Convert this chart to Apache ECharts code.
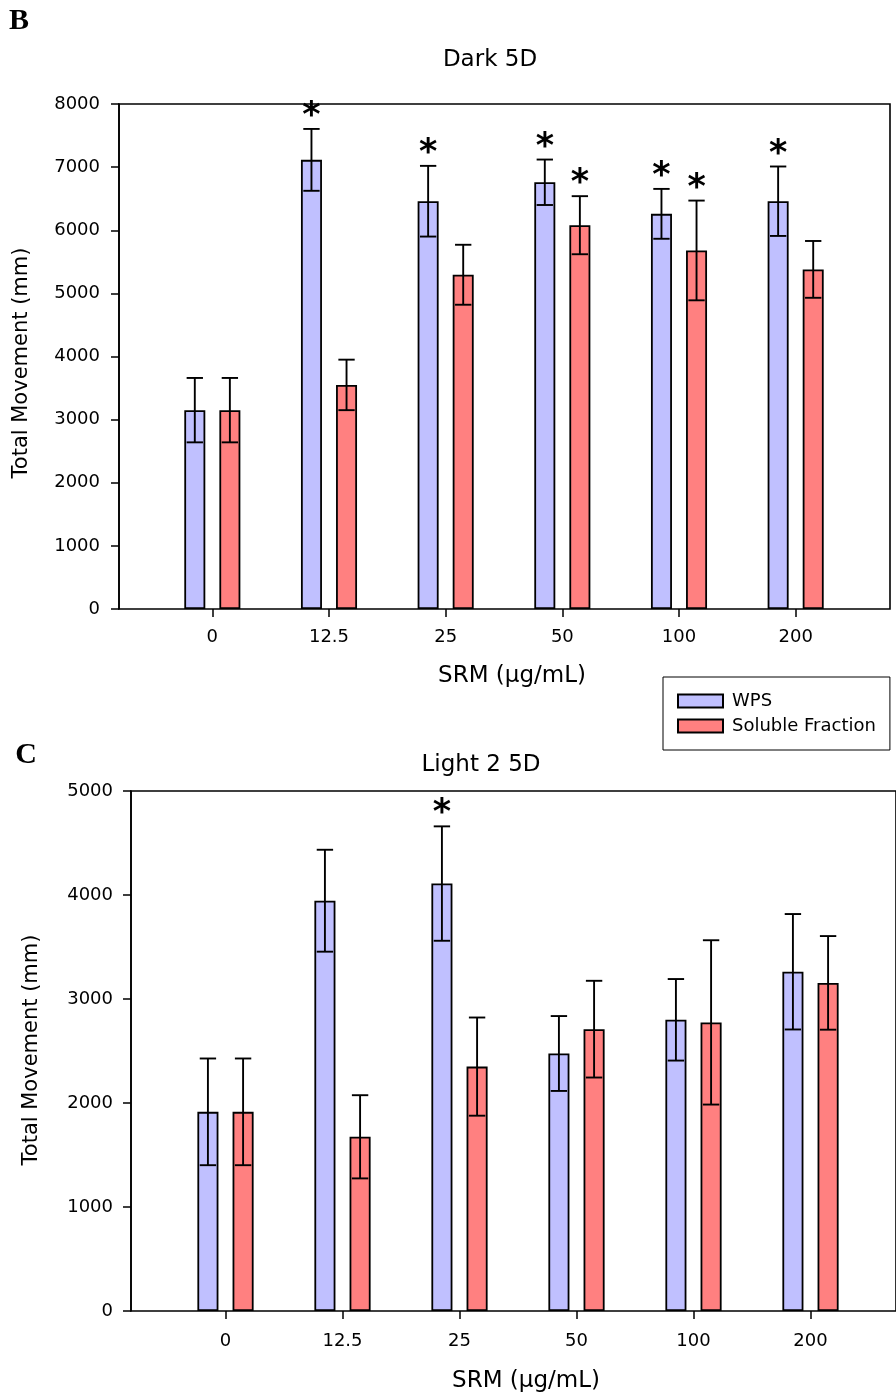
<!DOCTYPE html>
<html>
<head>
<meta charset="utf-8">
<script src="https://cdn.jsdelivr.net/npm/echarts@6/dist/echarts.min.js"></script>
<style>
  html, body { margin: 0; padding: 0; background: #fff; }
  #chart { width: 896px; height: 1397px; }
</style>
</head>
<body>
<div id="chart"></div>
<script>
// Dose groups (SRM concentration, µg/mL)
const doses = ['0', '12.5', '25', '50', '100', '200'];
const seriesNames = ['WPS', 'Soluble Fraction'];

// Panel B: Dark 5D — total movement (mm), mean and error
const darkWps      = [3150, 7115, 6460, 6760, 6260, 6460];
const darkWpsErr   = [510, 490, 560, 360, 395, 550];
const darkWpsSig   = [0, 1, 1, 1, 1, 1];
const darkSol      = [3150, 3550, 5295, 6080, 5680, 5380];
const darkSolErr   = [510, 400, 475, 460, 790, 450];
const darkSolSig   = [0, 0, 0, 1, 1, 0];

// Panel C: Light 2 5D — total movement (mm), mean and error
const lightWps     = [1915, 3945, 4110, 2476, 2800, 3262];
const lightWpsErr  = [513, 490, 550, 360, 392, 555];
const lightWpsSig  = [0, 0, 1, 0, 0, 0];
const lightSol     = [1915, 1675, 2350, 2710, 2775, 3155];
const lightSolErr  = [513, 400, 472, 465, 790, 450];
const lightSolSig  = [0, 0, 0, 0, 0, 0];

// Value axis ranges
const darkAxis  = { max: 8000, step: 1000 };
const lightAxis = { max: 5000, step: 1000 };

const FONT = 'DejaVu Sans';
const INK = '#000';
const WPS_COLOR = '#c0c0ff';
const SOL_COLOR = '#ff8080';
const BAR_FRAC = 0.18;   // bar width as share of the category band
const GAP_FRAC = 0.67;   // gap between paired bars, share of bar width
const CAP_FRAC = 0.14;   // error-bar cap width as share of the band

const chart = echarts.init(document.getElementById('chart'), null, { renderer: 'canvas' });

function rows(means, errs, sig) {
  return means.map((m, i) => [i, m, errs[i], sig[i]]);
}

function barSeries(name, values, color, gi) {
  return {
    type: 'bar', name, data: values,
    xAxisIndex: gi, yAxisIndex: gi,
    barWidth: (BAR_FRAC * 100) + '%',
    barGap: (GAP_FRAC * 100) + '%',
    itemStyle: { color, borderColor: INK, borderWidth: 1.8 },
    z: 2
  };
}

// Whiskers (mean ± error) with an asterisk over significant groups
function errorSeries(name, data, side, gi) {
  return {
    type: 'custom', name, data,
    xAxisIndex: gi, yAxisIndex: gi,
    encode: { x: 0, y: 1 },
    z: 5, clip: false,
    renderItem(params, api) {
      const i = api.value(0), mean = api.value(1), err = api.value(2), sig = api.value(3);
      const band = api.size([1, 0])[0];
      const off = side * band * (BAR_FRAC + BAR_FRAC * GAP_FRAC) / 2;
      const base = api.coord([i, mean]);
      const hi = api.coord([i, mean + err]);
      const lo = api.coord([i, mean - err]);
      const x = base[0] + off;
      const half = band * CAP_FRAC / 2;
      const ls = { stroke: INK, lineWidth: 1.9 };
      const children = [
        { type: 'line', shape: { x1: x, y1: hi[1], x2: x, y2: lo[1] }, style: ls },
        { type: 'line', shape: { x1: x - half, y1: hi[1], x2: x + half, y2: hi[1] }, style: ls },
        { type: 'line', shape: { x1: x - half, y1: lo[1], x2: x + half, y2: lo[1] }, style: ls }
      ];
      if (sig) {
        children.push({
          type: 'text', x: x, y: hi[1] - 12,
          style: { text: '*', fontSize: 35, fontFamily: FONT, fontWeight: 'bold', fill: INK,
                   align: 'center', verticalAlign: 'middle' }
        });
      }
      return { type: 'group', children };
    }
  };
}

function frameGrid(pos) {
  return Object.assign({ show: true, borderColor: INK, borderWidth: 1.6, backgroundColor: 'transparent' }, pos);
}

function frameY(gi, axis, margin) {
  return {
    gridIndex: gi, type: 'value', min: 0, max: axis.max, interval: axis.step,
    axisLine: { show: true, lineStyle: { color: INK, width: 1.6 } },
    axisTick: { show: true, inside: false, length: 8, lineStyle: { color: INK, width: 1.5 } },
    splitLine: { show: false },
    axisLabel: { margin, color: INK, fontFamily: FONT, fontSize: 18, formatter: v => String(v) }
  };
}

function barsX(gi, margin) {
  return {
    gridIndex: gi, type: 'category', data: doses, boundaryGap: true,
    axisLine: { show: false },
    axisTick: { show: true, alignWithLabel: true, length: 8, lineStyle: { color: INK, width: 1.5 } },
    axisLabel: { margin, color: INK, fontFamily: FONT, fontSize: 18, interval: 0 }
  };
}

function hiddenY(gi, axis) {
  return { gridIndex: gi, type: 'value', min: 0, max: axis.max, interval: axis.step, show: false, splitLine: { show: false } };
}

function label(text, x, y, size, opts) {
  return {
    type: 'text', x, y, silent: true,
    style: Object.assign({ text, fontSize: size, fontFamily: FONT, fill: INK, align: 'center', verticalAlign: 'middle' }, opts || {})
  };
}

const option = {
  animation: false,
  backgroundColor: '#fff',
  grid: [
    frameGrid({ left: 119, top: 104, width: 771, height: 505 }),   // panel B frame
    { left: 154, top: 104, width: 700, height: 505 },               // panel B bars
    frameGrid({ left: 131, top: 791, width: 774, height: 520 }),    // panel C frame
    { left: 167, top: 791, width: 702, height: 520 }                // panel C bars
  ],
  xAxis: [
    { gridIndex: 0, type: 'value', min: 0, max: 1, show: false },
    barsX(1, 19),
    { gridIndex: 2, type: 'value', min: 0, max: 1, show: false },
    barsX(3, 21)
  ],
  yAxis: [
    frameY(0, darkAxis, 19),
    hiddenY(1, darkAxis),
    frameY(2, lightAxis, 18),
    hiddenY(3, lightAxis)
  ],
  legend: {
    data: seriesNames, orient: 'vertical', left: 663, top: 677,
    padding: [15, 14, 15, 14], itemWidth: 45, itemHeight: 13, itemGap: 7,
    borderColor: INK, borderWidth: 1, icon: 'rect', selectedMode: false,
    textStyle: { fontFamily: FONT, fontSize: 18, color: INK, padding: [0, 0, 0, 4], lineHeight: 14 }
  },
  series: [
    barSeries('WPS', darkWps, WPS_COLOR, 1),
    barSeries('Soluble Fraction', darkSol, SOL_COLOR, 1),
    errorSeries('WPS error (dark)', rows(darkWps, darkWpsErr, darkWpsSig), -1, 1),
    errorSeries('Soluble error (dark)', rows(darkSol, darkSolErr, darkSolSig), 1, 1),
    barSeries('WPS', lightWps, WPS_COLOR, 3),
    barSeries('Soluble Fraction', lightSol, SOL_COLOR, 3),
    errorSeries('WPS error (light)', rows(lightWps, lightWpsErr, lightWpsSig), -1, 3),
    errorSeries('Soluble error (light)', rows(lightSol, lightSolErr, lightSolSig), 1, 3)
  ],
  graphic: [
    label('B', 19, 21, 30, { fontFamily: 'Liberation Serif', fontWeight: 'bold' }),
    label('Dark 5D', 490, 60, 23),
    label('Total Movement (mm)', 22, 363, 21),
    label('SRM (µg/mL)', 512, 676, 23),
    label('C', 26, 755, 30, { fontFamily: 'Liberation Serif', fontWeight: 'bold' }),
    label('Light 2 5D', 481, 765, 23),
    label('Total Movement (mm)', 32, 1050, 21),
    label('SRM (µg/mL)', 526, 1381, 23)
  ]
};
// y-axis titles read bottom-to-top
option.graphic[2].rotation = Math.PI / 2;
option.graphic[6].rotation = Math.PI / 2;

chart.setOption(option);
</script>
</body>
</html>
